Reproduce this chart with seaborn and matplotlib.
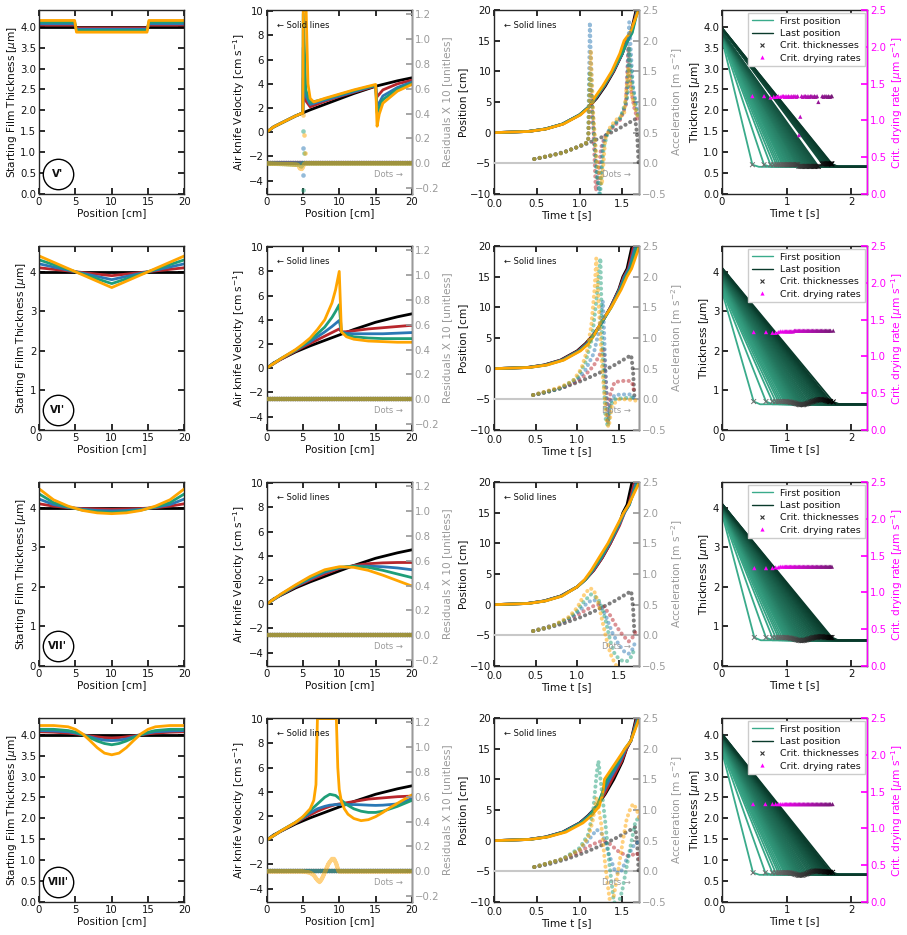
import numpy as np
import pandas as pd
import seaborn as sns
import matplotlib.pyplot as plt
from matplotlib.lines import Line2D

SERIES = ["black", "red", "blue", "green", "orange"]
COLORS = {"black": "#000000", "red": "#b8262c", "blue": "#2a78b5",
          "green": "#1f9e78", "orange": "#ffa500"}
ROMAN = ["V'", "VI'", "VII'", "VIII'"]

# ---------------- column 1 : starting film thickness profiles
PROF_X_1 = [0, 4.9, 5.15, 14.85, 15.1, 20]
PROF_1 = {"black": [4.0, 4.0, 4.0, 4.0, 4.0, 4.0],
          "red": [4.04, 4.04, 3.97, 3.97, 4.04, 4.04],
          "blue": [4.07, 4.07, 3.94, 3.94, 4.07, 4.07],
          "green": [4.11, 4.11, 3.91, 3.91, 4.11, 4.11],
          "orange": [4.15, 4.15, 3.87, 3.87, 4.15, 4.15]}
PROF_X_2 = [0, 10, 20]
PROF_2 = {"black": [4.0, 4.0, 4.0], "red": [4.1, 3.9, 4.1], "blue": [4.2, 3.8, 4.2],
          "green": [4.3, 3.7, 4.3], "orange": [4.4, 3.6, 4.4]}
PROF_X_3 = [0, 2, 4, 6, 8, 10, 12, 14, 16, 18, 20]
PROF_3 = {"black": [4.0] * 11,
          "red": [4.10, 4.04, 4.00, 3.98, 3.97, 3.96, 3.97, 3.98, 4.00, 4.04, 4.10],
          "blue": [4.22, 4.08, 4.01, 3.96, 3.93, 3.92, 3.93, 3.96, 4.01, 4.08, 4.22],
          "green": [4.35, 4.13, 4.02, 3.94, 3.90, 3.88, 3.90, 3.94, 4.02, 4.13, 4.35],
          "orange": [4.48, 4.20, 4.04, 3.93, 3.87, 3.85, 3.87, 3.93, 4.04, 4.20, 4.48]}
PROF_X_4 = [0, 2, 4, 5, 6, 7, 8, 9, 10, 11, 12, 13, 14, 15, 16, 18, 20]
PROF_4 = {"black": [4.0] * 17,
          "red": [4.07, 4.06, 4.04, 4.02, 4.0, 3.97, 3.95, 3.93, 3.92, 3.93, 3.95, 3.97, 4.0, 4.02, 4.04, 4.06, 4.07],
          "blue": [4.1, 4.09, 4.07, 4.04, 4.0, 3.95, 3.9, 3.87, 3.86, 3.87, 3.9, 3.95, 4.0, 4.04, 4.07, 4.09, 4.1],
          "green": [4.13, 4.13, 4.1, 4.06, 4.0, 3.93, 3.85, 3.79, 3.76, 3.79, 3.85, 3.93, 4.0, 4.06, 4.1, 4.13, 4.13],
          "orange": [4.22, 4.22, 4.19, 4.13, 4.02, 3.86, 3.69, 3.56, 3.52, 3.56, 3.69, 3.86, 4.02, 4.13, 4.19, 4.22, 4.22]}

# ---------------- column 2 : air knife velocity (x, v) per series
BASE_X = [0, 1, 2, 3, 4, 5, 6, 8, 10, 12, 14, 15, 16, 18, 20]
BASE_V = [0, 0.45, 0.75, 1.05, 1.35, 1.6, 1.85, 2.3, 2.75, 3.2, 3.6, 3.8, 3.95, 4.25, 4.5]

VEL_1 = {
    "red": ([0, 1, 2, 3, 4, 5, 5.05, 5.4, 6, 8, 10, 12, 14, 15, 15.15, 16, 18, 20],
            [0, 0.45, 0.75, 1.05, 1.35, 1.6, 4.5, 2.6, 2.1, 2.55, 2.95, 3.3, 3.65, 3.82, 2.9, 3.5, 4.0, 4.3]),
    "blue": ([0, 1, 2, 3, 4, 5, 5.05, 5.4, 6, 8, 10, 12, 14, 15, 15.2, 16, 18, 20],
             [0, 0.45, 0.75, 1.05, 1.35, 1.6, 7.0, 3.0, 2.3, 2.65, 3.0, 3.35, 3.7, 3.85, 2.1, 3.0, 3.7, 4.15]),
    "green": ([0, 1, 2, 3, 4, 5, 5.05, 5.4, 6, 8, 10, 12, 14, 15, 15.2, 16, 18, 20],
              [0, 0.45, 0.75, 1.05, 1.35, 1.6, 9.8, 3.5, 2.45, 2.75, 3.1, 3.45, 3.75, 3.88, 1.6, 2.7, 3.55, 4.05]),
    "orange": ([0, 1, 2, 3, 4, 5, 5.05, 5.45, 5.7, 6.0, 6.5, 8, 10, 12, 14, 15, 15.2, 15.5, 16, 18, 20],
               [0, 0.45, 0.75, 1.05, 1.35, 1.6, 10.05, 10.05, 4.0, 2.8, 2.5, 2.8, 3.15, 3.5, 3.8, 3.95, 0.5, 1.5, 2.4, 3.4, 3.95]),
}
VX_2 = [0, 2, 4, 5, 6, 7, 8, 9, 9.5, 10, 10.3, 11, 12, 14, 16, 18, 20]
VEL_2 = {
    "red": (VX_2, [0, 0.75, 1.42, 1.75, 2.05, 2.35, 2.65, 2.95, 3.1, 3.25, 3.0, 3.02, 3.1, 3.25, 3.35, 3.45, 3.55]),
    "blue": (VX_2, [0, 0.8, 1.48, 1.85, 2.2, 2.6, 3.0, 3.45, 3.7, 3.95, 3.0, 2.88, 2.85, 2.85, 2.85, 2.9, 2.95]),
    "green": (VX_2, [0, 0.8, 1.5, 1.9, 2.35, 2.85, 3.4, 4.2, 4.7, 5.25, 3.0, 2.75, 2.6, 2.5, 2.45, 2.45, 2.45]),
    "orange": (VX_2, [0, 0.8, 1.55, 2.0, 2.5, 3.2, 4.0, 5.4, 6.5, 8.0, 3.0, 2.6, 2.4, 2.25, 2.2, 2.15, 2.15]),
}
VX_3 = [0, 2, 4, 6, 8, 10, 12, 14, 16, 18, 20]
VEL_3 = {
    "red": (VX_3, [0, 0.78, 1.45, 2.0, 2.5, 2.95, 3.2, 3.35, 3.42, 3.45, 3.45]),
    "blue": (VX_3, [0, 0.8, 1.5, 2.1, 2.65, 3.0, 3.15, 3.15, 3.1, 3.0, 2.85]),
    "green": (VX_3, [0, 0.82, 1.55, 2.2, 2.75, 3.05, 3.15, 3.05, 2.8, 2.5, 2.2]),
    "orange": (VX_3, [0, 0.85, 1.6, 2.3, 2.85, 3.1, 3.05, 2.8, 2.4, 1.95, 1.5]),
}
VX_4 = [0, 2, 4, 5, 6, 7, 8, 8.7, 9.5, 10, 11, 12, 13, 14, 15, 16, 18, 20]
VEL_4 = {
    "red": (VX_4, [0, 0.76, 1.43, 1.78, 2.1, 2.4, 2.65, 2.8, 2.95, 3.0, 3.1, 3.2, 3.3, 3.4, 3.45, 3.5, 3.6, 3.65]),
    "blue": (VX_4, [0, 0.78, 1.47, 1.85, 2.25, 2.6, 2.8, 2.9, 2.95, 2.95, 2.95, 2.95, 2.93, 2.9, 2.88, 2.9, 3.0, 3.45]),
    "green": (VX_4, [0, 0.78, 1.48, 1.9, 2.45, 3.0, 3.55, 3.8, 3.7, 3.45, 2.95, 2.6, 2.4, 2.3, 2.3, 2.4, 2.8, 3.3]),
    "orange": ([0, 2, 4, 5, 6, 6.5, 6.8, 7.0, 9.6, 9.8, 10.0, 10.3, 10.7, 11.2, 12, 13, 14, 15, 16, 17, 18, 19, 20],
               [0, 0.78, 1.48, 1.95, 2.6, 3.3, 4.6, 10.05, 10.05, 6, 4.2, 3.2, 2.6, 2.15, 1.8, 1.62, 1.7, 1.95, 2.3, 2.7, 3.05, 3.4, 3.75]),
}

# residual dots (x, residual) per series
RES_FLAT = ([0, 20], [0, 0])
RES_1 = {"orange": ([0, 4.3, 4.6, 4.9, 5.2, 20], [0, -0.01, -0.04, -0.045, 0, 0]),
         "green": ([0, 4.5, 4.8, 5.0, 20], [0, -0.01, -0.025, 0, 0])}
RES_4 = {"orange": ([0, 5, 6, 6.5, 7, 7.3, 7.6, 8, 8.5, 9, 9.3, 9.6, 9.9, 20],
                    [0, 0, -0.01, -0.03, -0.07, -0.085, -0.06, -0.01, 0.06, 0.1, 0.1, 0.06, 0, 0]),
         "green": ([0, 20], [0, 0])}
RES_OUT_X = [5.0, 5.0, 5.15, 5.0, 5.15, 5.3, 5.0, 5.0]
RES_OUT_R = [0.386, 0.26, 0.23, 0.124, 0.085, 0.085, -0.09, -0.216]
RES_OUT_S = ["orange", "green", "orange", "blue", "green", "orange", "blue", "green"]

# ---------------- column 3 : position vs time (time at which each position is reached)
POS_LEVELS = [0, 0.2, 0.6, 1.4, 2.9, 4.1, 5.6, 7.6, 10, 12.9, 15, 16.3, 20]
TPOS_1 = {"black": [0, 0.4, 0.6, 0.8, 1.0, 1.1, 1.2, 1.3, 1.4, 1.5, 1.545, 1.6, 1.66],
          "red": [0, 0.4, 0.6, 0.8, 1.0, 1.1, 1.19, 1.29, 1.395, 1.5, 1.55, 1.605, 1.67],
          "blue": [0, 0.4, 0.6, 0.8, 1.0, 1.1, 1.185, 1.285, 1.39, 1.5, 1.56, 1.61, 1.675],
          "green": [0, 0.4, 0.6, 0.8, 1.0, 1.1, 1.18, 1.28, 1.385, 1.495, 1.565, 1.615, 1.68],
          "orange": [0, 0.41, 0.61, 0.81, 1.01, 1.11, 1.17, 1.27, 1.375, 1.47, 1.52, 1.59, 1.69]}
TPOS_2 = {"black": [0, 0.4, 0.6, 0.8, 1.0, 1.1, 1.2, 1.3, 1.4, 1.5, 1.55, 1.6, 1.66],
          "red": [0, 0.41, 0.61, 0.81, 1.01, 1.11, 1.2, 1.3, 1.4, 1.505, 1.56, 1.615, 1.68],
          "blue": [0, 0.42, 0.62, 0.82, 1.02, 1.12, 1.205, 1.3, 1.405, 1.51, 1.57, 1.625, 1.7],
          "green": [0, 0.42, 0.63, 0.83, 1.03, 1.13, 1.21, 1.3, 1.41, 1.52, 1.585, 1.64, 1.72],
          "orange": [0, 0.43, 0.64, 0.84, 1.04, 1.14, 1.21, 1.29, 1.41, 1.53, 1.6, 1.655, 1.75]}
TPOS_3 = {"black": [0, 0.4, 0.6, 0.8, 1.0, 1.1, 1.2, 1.3, 1.4, 1.5, 1.55, 1.6, 1.66],
          "red": [0, 0.4, 0.6, 0.8, 1.0, 1.1, 1.2, 1.3, 1.4, 1.51, 1.57, 1.62, 1.69],
          "blue": [0, 0.41, 0.61, 0.81, 1.0, 1.1, 1.19, 1.29, 1.39, 1.5, 1.57, 1.63, 1.71],
          "green": [0, 0.41, 0.61, 0.81, 1.0, 1.1, 1.18, 1.28, 1.38, 1.49, 1.56, 1.625, 1.73],
          "orange": [0, 0.42, 0.62, 0.82, 1.0, 1.09, 1.17, 1.26, 1.37, 1.48, 1.56, 1.62, 1.75]}
TPOS_4 = {"black": [0, 0.4, 0.6, 0.8, 1.0, 1.1, 1.2, 1.3, 1.4, 1.5, 1.55, 1.6, 1.66],
          "red": [0, 0.41, 0.61, 0.81, 1.01, 1.11, 1.2, 1.29, 1.38, 1.49, 1.55, 1.6, 1.67],
          "blue": [0, 0.41, 0.61, 0.81, 1.01, 1.11, 1.2, 1.27, 1.35, 1.47, 1.54, 1.6, 1.68],
          "green": [0, 0.42, 0.62, 0.82, 1.02, 1.12, 1.2, 1.26, 1.32, 1.45, 1.53, 1.6, 1.69],
          "orange": [0, 0.42, 0.63, 0.84, 1.04, 1.14, 1.23, 1.27, 1.29, 1.43, 1.53, 1.6, 1.7]}

# acceleration dots (t, a) per series
ACC_BLACK = ([0.47, 0.55, 0.65, 0.75, 0.85, 0.95, 1.05, 1.15, 1.25, 1.35, 1.45, 1.55, 1.65, 1.665, 1.675, 1.69],
             [0.07, 0.09, 0.12, 0.16, 0.2, 0.25, 0.3, 0.36, 0.42, 0.49, 0.56, 0.64, 0.72, 0.55, 0.4, 0.0])
ACC_1 = {
    "red": ([0.47, 0.8, 1.0, 1.1, 1.13, 1.16, 1.19, 1.21, 1.25, 1.3, 1.4, 1.48, 1.54, 1.57, 1.6, 1.64, 1.68],
            [0.07, 0.17, 0.28, 0.35, 1.2, 0.6, -0.45, -0.3, 0.25, 0.45, 0.6, 0.72, 0.95, 1.9, 1.2, 0.9, 0.7]),
    "blue": ([0.47, 0.8, 1.0, 1.1, 1.12, 1.15, 1.2, 1.23, 1.27, 1.32, 1.4, 1.48, 1.55, 1.58, 1.62, 1.66, 1.69],
             [0.07, 0.17, 0.28, 0.35, 2.3, 0.8, -0.1, -0.5, 0.3, 0.5, 0.62, 0.74, 1.0, 2.3, 1.3, 0.95, 0.75]),
    "green": ([0.47, 0.8, 1.0, 1.1, 1.12, 1.15, 1.2, 1.24, 1.28, 1.33, 1.4, 1.48, 1.56, 1.58, 1.62, 1.66, 1.69],
              [0.07, 0.17, 0.28, 0.35, 1.5, 0.9, -0.2, -0.5, 0.25, 0.5, 0.63, 0.75, 1.1, 1.9, 1.25, 0.9, 0.72]),
    "orange": ([0.47, 0.8, 1.0, 1.1, 1.13, 1.16, 1.2, 1.26, 1.3, 1.36, 1.42, 1.47, 1.52, 1.57, 1.61, 1.65, 1.69],
               [0.07, 0.17, 0.28, 0.35, 1.85, 0.8, 0.05, -0.35, 0.4, 0.6, 0.7, 0.76, 0.8, 1.55, 1.1, 0.9, 0.7]),
}
ACC_2 = {
    "red": ([0.47, 0.8, 1.0, 1.1, 1.2, 1.28, 1.32, 1.35, 1.37, 1.4, 1.45, 1.55, 1.62, 1.66, 1.69],
            [0.07, 0.18, 0.3, 0.4, 0.55, 0.75, 0.85, 0.2, -0.35, 0.1, 0.28, 0.3, 0.3, 0.28, 0.1]),
    "blue": ([0.47, 0.8, 1.0, 1.1, 1.2, 1.26, 1.31, 1.34, 1.37, 1.4, 1.45, 1.55, 1.65, 1.69],
             [0.07, 0.18, 0.32, 0.48, 0.75, 1.1, 1.6, 0.5, -0.4, -0.05, 0.07, 0.08, 0.08, 0.0]),
    "green": ([0.47, 0.8, 1.0, 1.1, 1.18, 1.23, 1.28, 1.3, 1.34, 1.37, 1.4, 1.45, 1.55, 1.65, 1.7],
              [0.07, 0.18, 0.35, 0.6, 1.0, 1.6, 2.3, 1.0, -0.3, -0.45, -0.1, 0.0, 0.02, 0.03, 0.0]),
    "orange": ([0.47, 0.8, 0.95, 1.05, 1.12, 1.17, 1.21, 1.23, 1.3, 1.36, 1.38, 1.42, 1.5, 1.6, 1.7],
               [0.07, 0.2, 0.3, 0.5, 0.8, 1.2, 1.8, 2.3, 0.5, -0.4, -0.45, -0.1, 0.0, 0.0, -0.02]),
}
ACC_3 = {
    "red": ([0.47, 0.8, 1.0, 1.1, 1.2, 1.27, 1.33, 1.4, 1.47, 1.55, 1.62, 1.66, 1.7],
            [0.07, 0.2, 0.33, 0.41, 0.48, 0.5, 0.45, 0.32, 0.15, 0.0, -0.1, -0.05, 0.05]),
    "blue": ([0.47, 0.8, 0.95, 1.05, 1.13, 1.2, 1.27, 1.35, 1.42, 1.5, 1.57, 1.62, 1.67, 1.7],
             [0.07, 0.2, 0.31, 0.43, 0.54, 0.58, 0.52, 0.3, 0.05, -0.15, -0.27, -0.3, -0.22, -0.1]),
    "green": ([0.47, 0.7, 0.9, 1.0, 1.08, 1.17, 1.25, 1.3, 1.35, 1.4, 1.45, 1.5, 1.55, 1.6, 1.65, 1.7],
              [0.07, 0.15, 0.28, 0.4, 0.55, 0.67, 0.6, 0.45, 0.2, -0.1, -0.3, -0.38, -0.42, -0.42, -0.35, -0.2]),
    "orange": ([0.47, 0.7, 0.9, 1.0, 1.08, 1.15, 1.2, 1.25, 1.3, 1.35, 1.4, 1.45, 1.5],
               [0.07, 0.15, 0.3, 0.45, 0.65, 0.77, 0.74, 0.55, 0.25, -0.05, -0.3, -0.45, -0.55]),
}
ACC_4 = {
    "red": ([0.47, 0.8, 1.0, 1.1, 1.2, 1.28, 1.35, 1.45, 1.55, 1.62, 1.67, 1.7],
            [0.07, 0.2, 0.32, 0.4, 0.47, 0.5, 0.45, 0.33, 0.25, 0.27, 0.3, 0.2]),
    "blue": ([0.47, 0.8, 1.0, 1.1, 1.2, 1.27, 1.35, 1.42, 1.48, 1.55, 1.62, 1.7],
             [0.07, 0.2, 0.35, 0.5, 0.68, 0.6, 0.25, -0.02, -0.02, 0.2, 0.4, 0.5]),
    "green": ([0.47, 0.8, 1.0, 1.1, 1.16, 1.2, 1.22, 1.26, 1.3, 1.35, 1.4, 1.45, 1.5, 1.58, 1.65, 1.7],
              [0.07, 0.2, 0.38, 0.6, 1.0, 1.6, 1.8, 1.3, 0.8, 0.1, -0.5, -0.55, -0.3, 0.3, 0.8, 0.9]),
    "orange": ([0.47, 0.8, 1.0, 1.1, 1.15, 1.2, 1.25, 1.3, 1.35, 1.4, 1.45, 1.5, 1.55, 1.6, 1.63, 1.67, 1.7],
               [0.07, 0.2, 0.35, 0.55, 0.8, 1.2, 0.8, 0.1, -0.45, -0.4, 0.0, 0.45, 0.85, 1.05, 1.1, 1.0, 0.85]),
}

# ---------------- column 4 : thickness vs time, one line per position
CRIT_T_1 = [0.47, 0.65, 0.75, 0.8, 0.84, 0.87, 0.9, 0.93, 0.95, 0.97,
            0.99, 1.01, 1.03, 1.05, 1.07, 1.09, 1.11, 1.13, 1.15, 1.17,
            1.19, 1.21, 1.23, 1.25, 1.27, 1.29, 1.31, 1.33, 1.35, 1.37,
            1.39, 1.41, 1.43, 1.45, 1.47, 1.49, 1.55, 1.57, 1.59, 1.61,
            1.63, 1.65, 1.67, 1.69, 1.7]
H0_1 = [3.70, 3.72, 3.73, 3.74, 3.75, 3.76, 3.76, 3.77, 3.77, 3.78,
        3.78, 3.79, 3.79, 3.80, 3.80, 3.81, 3.81, 3.82, 3.82, 3.83,
        3.83, 3.83, 3.84, 3.84, 3.84, 3.85, 3.85, 3.85, 3.86, 3.86,
        3.86, 3.87, 3.87, 3.87, 3.88, 3.88, 3.95, 3.95, 3.95, 3.96,
        3.96, 3.96, 3.97, 3.97, 3.97]
HC_1 = [0.70] * 20 + [0.66] * 16 + [0.72] * 9
RATE_1 = [1.33, 1.33, 1.31, 1.32, 1.32, 1.33, 1.32, 1.33, 1.33, 1.32,
          1.33, 1.32, 1.33, 1.32, 1.33, 1.32, 1.33, 1.33, 1.32, 1.33,
          0.8, 1.05, 1.33, 1.32, 1.33, 1.33, 1.32, 1.33, 1.32, 1.33,
          1.33, 1.32, 1.33, 1.32, 1.33, 1.25, 1.33, 1.32, 1.33, 1.33,
          1.32, 1.33, 1.32, 1.33, 1.33]

CRIT_T_2 = [0.49, 0.68, 0.78, 0.83, 0.87, 0.9, 0.93, 0.96, 0.98, 1.0,
            1.02, 1.04, 1.06, 1.08, 1.1, 1.12, 1.14, 1.16, 1.18, 1.2,
            1.22, 1.24, 1.26, 1.28, 1.3, 1.32, 1.34, 1.36, 1.38, 1.4,
            1.42, 1.44, 1.46, 1.48, 1.5, 1.52, 1.54, 1.56, 1.58, 1.6,
            1.62, 1.64, 1.66, 1.68, 1.72]
H0_2 = [3.50, 3.54, 3.58, 3.61, 3.64, 3.66, 3.68, 3.70, 3.72, 3.73,
        3.75, 3.76, 3.78, 3.79, 3.80, 3.82, 3.83, 3.84, 3.85, 3.86,
        3.87, 3.88, 3.89, 3.90, 3.91, 3.92, 3.93, 3.94, 3.95, 3.96,
        3.97, 3.98, 3.99, 4.00, 4.01, 4.02, 4.03, 4.04, 4.05, 4.06,
        4.07, 4.08, 4.09, 4.09, 4.10]
HC_2 = [0.72] * 10 + [0.71, 0.71, 0.70, 0.70, 0.69, 0.68, 0.67, 0.66, 0.65, 0.64,
                      0.64, 0.64, 0.64, 0.65, 0.66, 0.67, 0.68, 0.70, 0.71, 0.72,
                      0.73, 0.74, 0.75, 0.76, 0.77, 0.77, 0.77, 0.76, 0.76, 0.75,
                      0.74, 0.73, 0.72, 0.72, 0.71]
RATE_2 = [1.33, 1.33, 1.32, 1.32, 1.33] + [1.34] * 10 + [1.35] * 30

CRIT_T_3 = [0.5, 0.68, 0.78, 0.83, 0.87, 0.9, 0.93, 0.96, 0.98, 1.0,
            1.02, 1.04, 1.06, 1.08, 1.1, 1.12, 1.14, 1.16, 1.18, 1.2,
            1.22, 1.24, 1.26, 1.28, 1.3, 1.32, 1.34, 1.36, 1.38, 1.4,
            1.42, 1.44, 1.46, 1.48, 1.5, 1.52, 1.54, 1.56, 1.58, 1.6,
            1.62, 1.64, 1.66, 1.68, 1.7]
H0_3 = [3.85, 3.86, 3.87, 3.88, 3.89, 3.90, 3.90, 3.91, 3.92, 3.92,
        3.93, 3.94, 3.94, 3.95, 3.95, 3.96, 3.96, 3.97, 3.98, 3.98,
        3.99, 3.99, 4.00, 4.00, 4.01, 4.01, 4.02, 4.02, 4.03, 4.03,
        4.04, 4.04, 4.05, 4.05, 4.06, 4.06, 4.07, 4.07, 4.08, 4.08,
        4.09, 4.09, 4.10, 4.10, 4.10]
HC_3 = [0.72] * 10 + [0.71, 0.71, 0.70, 0.70, 0.69, 0.68, 0.67, 0.66, 0.65, 0.65,
                      0.64, 0.64, 0.65, 0.65, 0.66, 0.67, 0.68, 0.69, 0.70, 0.71,
                      0.72, 0.72, 0.73, 0.73, 0.74, 0.74, 0.74, 0.74, 0.73, 0.73,
                      0.73, 0.72, 0.72, 0.72, 0.72]
RATE_3 = [1.33, 1.33, 1.33, 1.34, 1.34] + [1.35] * 40

CRIT_T_4 = [0.48, 0.67, 0.78, 0.83, 0.87, 0.9, 0.93, 0.96, 0.98, 1.0,
            1.02, 1.04, 1.06, 1.08, 1.1, 1.12, 1.14, 1.16, 1.18, 1.2,
            1.22, 1.24, 1.26, 1.28, 1.3, 1.32, 1.34, 1.36, 1.38, 1.4,
            1.42, 1.44, 1.46, 1.48, 1.5, 1.52, 1.54, 1.56, 1.58, 1.6,
            1.62, 1.64, 1.66, 1.68, 1.71]
H0_4 = [3.60, 3.63, 3.66, 3.68, 3.70, 3.72, 3.73, 3.75, 3.76, 3.77,
        3.78, 3.79, 3.80, 3.81, 3.82, 3.83, 3.84, 3.85, 3.86, 3.87,
        3.88, 3.89, 3.90, 3.90, 3.91, 3.92, 3.92, 3.93, 3.94, 3.94,
        3.95, 3.96, 3.96, 3.97, 3.97, 3.98, 3.98, 3.99, 3.99, 4.00,
        4.00, 4.01, 4.01, 4.02, 4.02]
HC_4 = [0.70] * 10 + [0.70, 0.70, 0.69, 0.69, 0.68, 0.67, 0.66, 0.65, 0.64, 0.64,
                      0.64, 0.64, 0.65, 0.66, 0.67, 0.68, 0.70, 0.71, 0.72, 0.73,
                      0.74, 0.74, 0.74, 0.74, 0.74, 0.73, 0.73, 0.73, 0.72, 0.72,
                      0.72, 0.72, 0.71, 0.71, 0.71]
RATE_4 = [1.33] * 45
H_FINAL = 0.65

PROF_X = [PROF_X_1, PROF_X_2, PROF_X_3, PROF_X_4]
PROF = [PROF_1, PROF_2, PROF_3, PROF_4]
VEL = [VEL_1, VEL_2, VEL_3, VEL_4]
RES = [RES_1, {}, {}, RES_4]
TPOS = [TPOS_1, TPOS_2, TPOS_3, TPOS_4]
ACC = [ACC_1, ACC_2, ACC_3, ACC_4]
CRIT_T = [CRIT_T_1, CRIT_T_2, CRIT_T_3, CRIT_T_4]
H0 = [H0_1, H0_2, H0_3, H0_4]
HC = [HC_1, HC_2, HC_3, HC_4]
RATE = [RATE_1, RATE_2, RATE_3, RATE_4]

THICK_YLIM = [4.4, 4.65, 4.65, 4.4]
TIME_XLIM = [1.7, 1.75, 1.75, 1.7]

sns.set_theme(style="ticks", rc={
    "xtick.direction": "in", "ytick.direction": "in",
    "xtick.major.size": 4, "ytick.major.size": 4,
    "axes.linewidth": 1.0, "text.color": "#111111",
    "axes.labelcolor": "#111111", "xtick.color": "#111111", "ytick.color": "#111111",
})
plt.rcParams["font.family"] = ["DejaVu Sans"]
LABEL_FS = 7.6
TICK_FS = 7.3
NOTE_FS = 6.0

GRAY = "#9a9a9a"
MAGENTA = "#ff00ff"


def long_frame(lines):
    rows = []
    for name in SERIES:
        if name not in lines:
            continue
        xs, ys = lines[name]
        for i, (x, y) in enumerate(zip(xs, ys)):
            rows.append({"x": x, "y": y, "series": name, "i": i})
    return pd.DataFrame(rows)


def seaborn_lines(ax, lines, lw=2.0):
    df = long_frame(lines)
    sns.lineplot(data=df, x="x", y="y", hue="series", palette=COLORS,
                 hue_order=[s for s in SERIES if s in lines], estimator=None,
                 sort=False, lw=lw, legend=False, ax=ax)
    ax.set_xlabel("")
    ax.set_ylabel("")


def dots(ax, xs, ys, color, gap=0.8, lw=3.2):
    ax.plot(xs, ys, color=color, lw=lw, ls=(0, (0.05, gap)),
            dash_capstyle="round", alpha=0.5)


def style_main(ax, xpad=2):
    ax.tick_params(labelsize=TICK_FS, top=True, pad=2)
    ax.tick_params(axis="x", pad=xpad)


def style_twin(ax2, color):
    ax2.tick_params(labelsize=TICK_FS, colors=color, direction="in", pad=2)
    ax2.spines["right"].set_color(color)
    for s in ["left", "top", "bottom"]:
        ax2.spines[s].set_visible(False)


def minus(vals):
    return [f"{v:.1f}".replace("-", "\u2212") for v in vals]


fig = plt.figure(figsize=(9.07, 9.35), dpi=100)
col_left = [39, 266.5, 494, 722]
row_top = [10, 246, 482, 718]
W, H = 145.5, 184

for r in range(4):
    axs = []
    for c in range(4):
        rect = [col_left[c] / 907, 1 - (row_top[r] + H) / 935, W / 907, H / 935]
        axs.append(fig.add_axes(rect))
    a1, a2, a3, a4 = axs

    # --- column 1
    prof = {k: (PROF_X[r], v) for k, v in PROF[r].items()}
    seaborn_lines(a1, prof, lw=2.0)
    a1.set_xlim(0, 20)
    a1.set_ylim(0, THICK_YLIM[r])
    a1.set_xticks([0, 5, 10, 15, 20])
    if r in (0, 3):
        a1.set_yticks(np.arange(0, 4.01, 0.5))
    else:
        a1.set_yticks([0, 1, 2, 3, 4])
    a1.tick_params(labelsize=TICK_FS, top=True, right=True, pad=2)
    a1.set_xlabel("Position [cm]", fontsize=LABEL_FS, labelpad=1)
    a1.set_ylabel(r"Starting Film Thickness [$\mu$m]", fontsize=LABEL_FS, labelpad=1)
    a1.scatter([0.13], [0.11], s=480, marker="o", facecolor="white", edgecolor="black",
               linewidth=1.0, transform=a1.transAxes, zorder=6, clip_on=False)
    a1.text(0.13, 0.11, ROMAN[r], transform=a1.transAxes, ha="center", va="center",
            fontsize=7.5 if r < 3 else 7, fontweight="bold", zorder=7)

    # --- column 2
    vel = {"black": (BASE_X, BASE_V)}
    vel.update(VEL[r])
    seaborn_lines(a2, vel, lw=2.0)
    a2.set_xlim(0, 20)
    a2.set_ylim(-5.1, 10.1)
    a2.set_xticks([0, 5, 10, 15, 20])
    a2.set_yticks([-4, -2, 0, 2, 4, 6, 8, 10])
    style_main(a2)
    a2.set_xlabel("Position [cm]", fontsize=LABEL_FS, labelpad=1)
    a2.set_ylabel(r"Air knife Velocity [cm s$^{-1}$]", fontsize=LABEL_FS, labelpad=1)
    a2.text(0.07, 0.9, "\u2190 Solid lines", transform=a2.transAxes, fontsize=NOTE_FS)
    b2 = a2.twinx()
    for name in SERIES:
        xs, rs = RES[r].get(name, RES_FLAT)
        dots(b2, xs, rs, COLORS[name], gap=0.35)
    if r == 0:
        for x, v, s in zip(RES_OUT_X, RES_OUT_R, RES_OUT_S):
            b2.plot(x, v, "o", ms=3.3, color=COLORS[s], alpha=0.5, mec="none")
    b2.set_ylim(-0.245, 1.23)
    res_ticks = np.arange(-0.2, 1.21, 0.2)
    b2.set_yticks(res_ticks)
    b2.set_yticklabels(minus(res_ticks))
    style_twin(b2, GRAY)
    b2.set_ylabel("Residuals X 10 [unitless]", fontsize=LABEL_FS, color=GRAY, labelpad=2)
    b2.text(0.74, 0.09, "Dots \u2192", transform=b2.transAxes, fontsize=NOTE_FS, color=GRAY)

    # --- column 3
    pos = {k: (v, POS_LEVELS) for k, v in TPOS[r].items()}
    seaborn_lines(a3, pos, lw=2.0)
    a3.set_xlim(0, TIME_XLIM[r])
    a3.set_ylim(-10, 20)
    a3.set_xticks([0, 0.5, 1.0, 1.5])
    a3.set_yticks([-10, -5, 0, 5, 10, 15, 20])
    style_main(a3, xpad=3.5)
    a3.set_xlabel("Time t [s]", fontsize=LABEL_FS, labelpad=1)
    a3.set_ylabel("Position [cm]", fontsize=LABEL_FS, labelpad=1)
    a3.text(0.07, 0.9, "\u2190 Solid lines", transform=a3.transAxes, fontsize=NOTE_FS)
    b3 = a3.twinx()
    b3.axhline(0, color="#c8c8c8", lw=1.5, zorder=0)
    dots(b3, ACC_BLACK[0], ACC_BLACK[1], COLORS["black"], gap=1.3, lw=2.9)
    for name in SERIES[1:]:
        xs, ys = ACC[r][name]
        dots(b3, xs, ys, COLORS[name], gap=1.3, lw=2.9)
    b3.set_ylim(-0.5, 2.5)
    acc_ticks = np.arange(-0.5, 2.51, 0.5)
    b3.set_yticks(acc_ticks)
    b3.set_yticklabels(minus(acc_ticks))
    style_twin(b3, GRAY)
    b3.set_ylabel(r"Acceleration [m s$^{-2}$]", fontsize=LABEL_FS, color=GRAY, labelpad=2)
    b3.text(0.74, 0.09, "Dots \u2192", transform=b3.transAxes, fontsize=NOTE_FS, color=GRAY)

    # --- column 4
    n = len(CRIT_T[r])
    greens = sns.blend_palette(["#3aab8b", "#0a3a2b"], n)
    grays = sns.blend_palette(["#707070", "#000000"], n)
    purples = sns.blend_palette([MAGENTA, "#7a1a7a"], n)
    for i in range(n):
        tc, h0, hc = CRIT_T[r][i], H0[r][i], HC[r][i]
        a4.plot([0, tc, tc + 0.1, 2.4], [h0, hc, H_FINAL, H_FINAL],
                color=greens[i], lw=1.3)
    mk = pd.DataFrame({"t": CRIT_T[r], "h": HC[r], "rate": RATE[r], "i": range(n)})
    sns.scatterplot(data=mk, x="t", y="h", hue="i", palette=grays, marker="x",
                    s=12, linewidth=0.7, legend=False, ax=a4, zorder=5)
    a4.set_xlim(0, 2.25)
    a4.set_ylim(0, THICK_YLIM[r])
    a4.set_xticks([0, 1, 2])
    if r in (0, 3):
        a4.set_yticks(np.arange(0, 4.01, 0.5))
    else:
        a4.set_yticks([0, 1, 2, 3, 4])
    style_main(a4)
    a4.set_xlabel("Time t [s]", fontsize=LABEL_FS, labelpad=1)
    a4.set_ylabel(r"Thickness [$\mu$m]", fontsize=LABEL_FS, labelpad=1)
    b4 = a4.twinx()
    sns.scatterplot(data=mk, x="t", y="rate", hue="i", palette=purples, marker="^",
                    s=9, linewidth=0, legend=False, ax=b4)
    b4.set_xlim(0, 2.25)
    b4.set_ylim(0, 2.5)
    b4.set_yticks(np.arange(0, 2.51, 0.5))
    b4.set_ylabel(r"Crit. drying rate [$\mu$m s$^{-1}$]", fontsize=LABEL_FS,
                  color=MAGENTA, labelpad=2)
    style_twin(b4, MAGENTA)
    handles = [Line2D([], [], color=greens[0], lw=1.0),
               Line2D([], [], color=greens[-1], lw=1.0),
               Line2D([], [], color="#333333", marker="x", ls="", ms=3.5, mew=0.8),
               Line2D([], [], color=MAGENTA, marker="^", ls="", ms=3, mew=0)]
    b4.legend(handles, ["First position", "Last position", "Crit. thicknesses",
                        "Crit. drying rates"], loc="upper right", fontsize=6.8,
              frameon=True, framealpha=1, edgecolor="#cccccc", fancybox=False,
              borderpad=0.4, labelspacing=0.35, handlelength=2.2, borderaxespad=0.3)

fig.savefig("out.png", dpi=100)
